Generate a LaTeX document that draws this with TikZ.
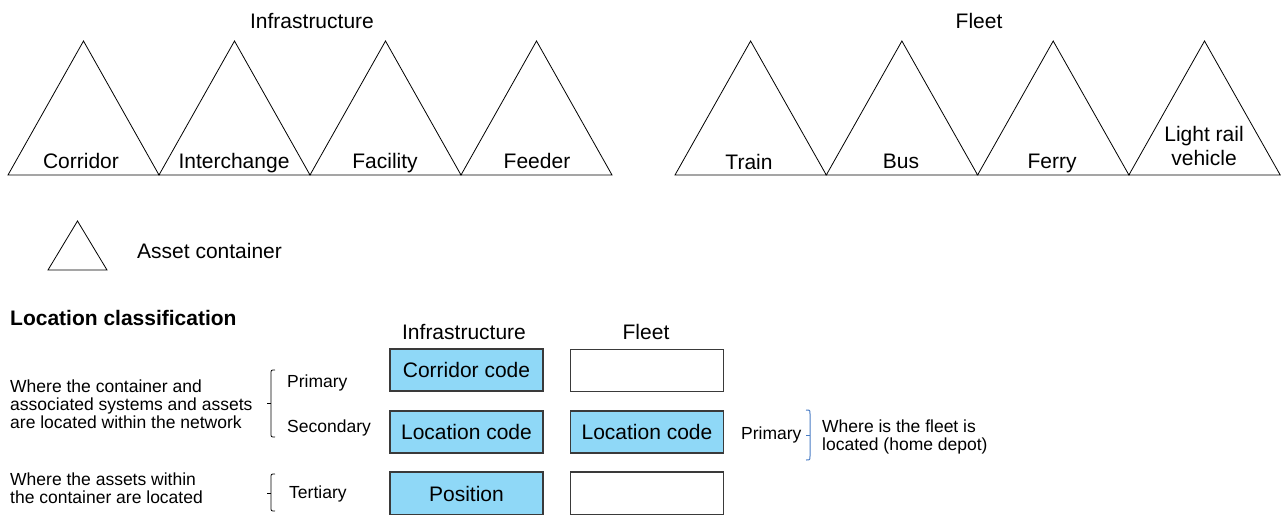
\documentclass[tikz,border=0pt]{standalone}
\usepackage{fontspec}
\setmainfont{Liberation Sans}
\definecolor{codefill}{HTML}{8FD8F7}
\definecolor{codeedge}{HTML}{3A3A3A}
\definecolor{bracecol}{HTML}{4A7CC4}
\begin{document}
\begin{tikzpicture}[x=1pt,y=-1pt,
  tri/.style={draw=black, line width=0.8pt, line join=miter},
  big/.style={font=\fontsize{21}{23}\selectfont, inner sep=0pt},
  bigbold/.style={font=\fontsize{21}{23}\selectfont\bfseries, inner sep=0pt},
  small/.style={font=\fontsize{17.5}{18}\selectfont, inner sep=0pt},
  codebox/.style={draw=codeedge, line width=1.3pt, minimum width=153pt, minimum height=42pt,
                  inner sep=0pt, font=\fontsize{21}{23}\selectfont},
  codefilled/.style={codebox, fill=codefill},
  bracket/.style={draw=black, line width=0.8pt},
  fleetbracket/.style={draw=bracecol, line width=1pt}]

\useasboundingbox (0,0) rectangle (1284,514);

% ---- asset containers: infrastructure ----
\node[big, anchor=base] (infratitle) at (312,28) {Infrastructure};
\foreach \i in {0,...,3}
  \draw[tri] (8+151*\i,175) -- (83.5+151*\i,41) -- (159+151*\i,175) -- cycle;
\node[big, anchor=base] (corridor)    at (81,168)  {Corridor};
\node[big, anchor=base] (interchange) at (234,168) {Interchange};
\node[big, anchor=base] (facility)    at (385,168) {Facility};
\node[big, anchor=base] (feeder)      at (537,168) {Feeder};

% ---- asset containers: fleet ----
\node[big, anchor=base] (fleettitle) at (979,28) {Fleet};
\foreach \i in {0,...,3}
  \draw[tri] (675+151.3*\i,175) -- (750.6+151.3*\i,41) -- (826.3+151.3*\i,175) -- cycle;
\node[big, anchor=base] (train) at (749,169)  {Train};
\node[big, anchor=base] (bus)   at (901,168)  {Bus};
\node[big, anchor=base] (ferry) at (1052,168) {Ferry};
\node[big, align=center, font=\fontsize{21}{24}\selectfont] (lrv) at (1204,146) {Light rail\\vehicle};

% ---- legend ----
\draw[tri] (48,270) -- (77.5,221) -- (107,270) -- cycle;
\node[big, anchor=base west] (legend) at (137,258) {Asset container};

% ---- location classification ----
\node[bigbold, anchor=base west] (loctitle) at (10,325) {Location classification};
\node[big, anchor=base] (colinfra) at (464,339) {Infrastructure};
\node[big, anchor=base] (colfleet) at (646,339) {Fleet};

\node[codefilled] (corcode)  at (466.5,370) {Corridor code};
\node[codefilled] (loccode)  at (466.5,432) {Location code};
\node[codefilled, minimum height=43pt] (position) at (466.5,493.5) {Position};

\node[codebox] (fleetprim) at (647,370.5) {};
\node[codefilled] (fleetloc) at (647,432) {Location code};
\node[codebox, minimum height=43pt] (fleetter) at (647,493.5) {};

% level names
\node[small, anchor=west] (primary)   at (287,383) {Primary};
\node[small, anchor=west] (secondary) at (287,428) {Secondary};
\node[small, anchor=west] (tertiary)  at (289,494) {Tertiary};

% descriptions
\node[small, anchor=west, align=left] (netdesc) at (10,404)
  {Where the container and\\ associated systems and assets\\are located within the network};
\node[small, anchor=west, align=left] (assetdesc) at (10,488)
  {Where the assets within\\the container are located};

% brackets grouping the levels
\draw[bracket] (275,370) .. controls (271,370) .. (271,374) -- (271,433)
  .. controls (271,437) .. (275,437);
\draw[bracket] (271,403) -- (266.5,403);
\draw[bracket] (275,474) .. controls (271,474) .. (271,478) -- (271,507)
  .. controls (271,511) .. (275,511);
\draw[bracket] (271,493) -- (266.5,493);

% fleet home depot
\node[small, anchor=west] (fleetprimary) at (741,435) {Primary};
\draw[fleetbracket] (806,410) .. controls (810,410) .. (810,414) -- (810,456)
  .. controls (810,460) .. (806,460);
\draw[fleetbracket] (810,435) -- (805.5,435);
\node[small, anchor=west, align=left] (fleetdesc) at (822,437)
  {Where is the fleet is\\ located (home depot)};
\end{tikzpicture}
\end{document}
